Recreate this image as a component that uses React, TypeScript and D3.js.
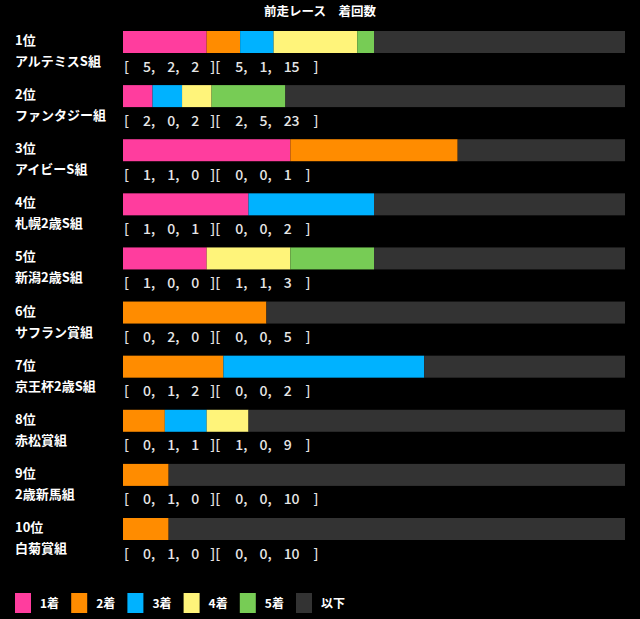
import * as React from "react"
import * as d3 from "d3"

const title = "前走レース　着回数"
const ranks = ["1位", "2位", "3位", "4位", "5位", "6位", "7位", "8位", "9位", "10位"]
const races = [
  "アルテミスS組",
  "ファンタジー組",
  "アイビーS組",
  "札幌2歳S組",
  "新潟2歳S組",
  "サフラン賞組",
  "京王杯2歳S組",
  "赤松賞組",
  "2歳新馬組",
  "白菊賞組",
]
const first = [5, 2, 1, 1, 1, 0, 0, 0, 0, 0]
const second = [2, 0, 1, 0, 0, 2, 1, 1, 1, 1]
const third = [2, 2, 0, 1, 0, 0, 2, 1, 0, 0]
const fourth = [5, 2, 0, 0, 1, 0, 0, 1, 0, 0]
const fifth = [1, 5, 0, 0, 1, 0, 0, 0, 0, 0]
const rest = [15, 23, 1, 2, 3, 5, 2, 9, 10, 10]

const legendLabels = ["1着", "2着", "3着", "4着", "5着", "以下"]
const colors = ["#ff3d9e", "#ff8c00", "#00b2ff", "#fff47a", "#77cc55", "#333333"]

const W = 640
const H = 619
const font = "'Noto Sans CJK JP', 'Noto Sans', sans-serif"

export default function App(): React.JSX.Element {
  React.useEffect(() => {
    document.body.style.margin = "0"
    document.body.style.background = "#000"
  }, [])

  const series = [first, second, third, fourth, fifth, rest]
  const rows = races.map((name, i) => ({
    name,
    rank: ranks[i],
    counts: series.map((s) => s[i]),
  }))

  const y = d3.scalePoint<number>().domain(d3.range(rows.length)).range([31, 518])
  const barH = 22
  const x0 = 123
  const x1 = 625

  const legendX = d3
    .scalePoint<number>()
    .domain(d3.range(legendLabels.length))
    .range([15, 296])

  return (
    <svg width={W} height={H} style={{ display: "block", background: "#000" }}>
      <rect width={W} height={H} fill="#000" />
      <text
        x={320}
        y={16}
        textAnchor="middle"
        fill="#fff"
        fontFamily={font}
        fontWeight={700}
        fontSize={12.5}
      >
        {title}
      </text>
      {rows.map((r, i) => {
        const total = d3.sum(r.counts)
        const x = d3.scaleLinear().domain([0, total]).range([x0, x1])
        const stack = d3.cumsum(r.counts)
        const top = y(i) as number
        return (
          <g key={r.name}>
            <text
              x={15}
              y={top + 14}
              fill="#fff"
              fontFamily={font}
              fontWeight={700}
              fontSize={13}
            >
              {r.rank}
            </text>
            <text
              x={15}
              y={top + 35}
              fill="#fff"
              fontFamily={font}
              fontWeight={700}
              fontSize={13}
            >
              {r.name}
            </text>
            {r.counts.map((c, j) =>
              c > 0 ? (
                <rect
                  key={j}
                  x={x(stack[j] - c)}
                  y={top}
                  width={x(stack[j]) - x(stack[j] - c)}
                  height={barH}
                  fill={colors[j]}
                />
              ) : null
            )}
            <text
              x={x0 + 1}
              y={top + 40.5}
              fill="#e6e6e6"
              fontFamily={font}
              fontWeight={500}
              fontSize={14}
            >
              <tspan>[</tspan>
              <tspan dx={14}>{r.counts[0]},</tspan>
              <tspan dx={12}>{r.counts[1]},</tspan>
              <tspan dx={12}>{r.counts[2]}</tspan>
              <tspan dx={11}>][</tspan>
              <tspan dx={15}>{r.counts[3]},</tspan>
              <tspan dx={12}>{r.counts[4]},</tspan>
              <tspan dx={12}>{r.counts[5]}</tspan>
              <tspan dx={14}>]</tspan>
            </text>
          </g>
        )
      })}
      {legendLabels.map((l, i) => {
        const lx = legendX(i) as number
        return (
          <g key={l}>
            <rect x={lx} y={593} width={16} height={20} fill={colors[i]} />
            <text
              x={lx + 25}
              y={608}
              fill="#fff"
              fontFamily={font}
              fontWeight={700}
              fontSize={12}
            >
              {l}
            </text>
          </g>
        )
      })}
    </svg>
  )
}
